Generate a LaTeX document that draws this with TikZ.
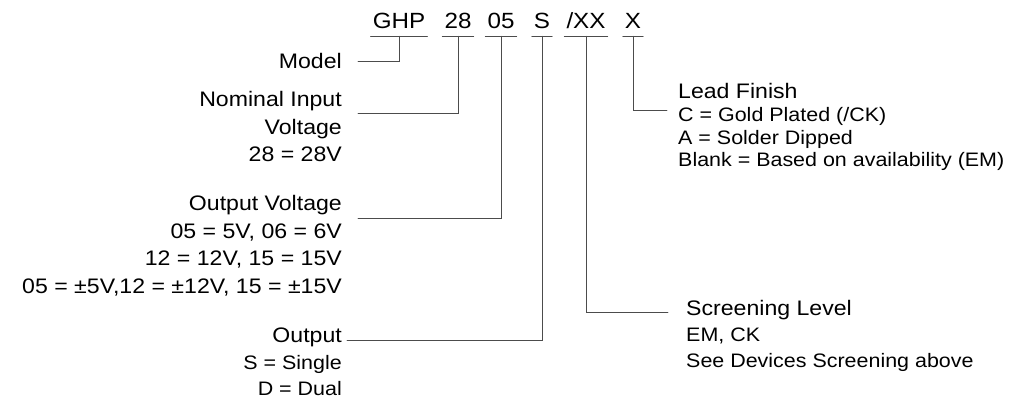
\documentclass[tikz,border=0pt]{standalone}
\usepackage{fontspec}
\setmainfont{Liberation Sans}[FakeStretch=1.1]
\begin{document}
\begin{tikzpicture}[x=1pt,y=-1pt,line cap=round,
    code/.style={font=\fontsize{22}{26}\selectfont, anchor=base, inner xsep=2pt, inner ysep=0pt, text depth=8pt},
    ttl/.style={font=\fontsize{21}{27.4}\selectfont, inner sep=0pt},
    sub/.style={font=\fontsize{19.5}{22.5}\selectfont, inner sep=0pt},
    lead/.style={draw=black!70, line width=0.7pt}]
  \useasboundingbox (0,0) rectangle (1010,400);
  % part number
  \node[code] (ghp) at (399,28) {GHP};
  \node[code] (c28) at (458,28) {28};
  \node[code] (c05) at (501,28) {05};
  \node[code] (cs) at (542,28) {S};
  \node[code] (cxx) at (586,28) {/XX};
  \node[code] (cx) at (633,28) {X};
  \foreach \p in {ghp,c28,c05,cs,cxx,cx}
    \draw[lead] (\p.south west) -- (\p.south east);   % underline
  % left side (base = last line)
  \node[ttl, anchor=base east] (mdl) at (342,68) {Model};
  \node[ttl, anchor=base east, align=right] (nom) at (342,161.5) {Nominal Input\\Voltage\\28 = 28V};
  \node[ttl, anchor=base east, align=right] (ovl) at (342,293) {Output Voltage\\05 = 5V, 06 = 6V\\12 = 12V, 15 = 15V\\05 = ±5V,12 = ±12V, 15 = ±15V};
  \node[ttl, anchor=base east] (out) at (342,342.3) {Output};
  \node[sub, anchor=base east, align=right, font=\fontsize{19.5}{26}\selectfont] (outd) at (342,395) {S = Single\\D = Dual};
  % right side
  \node[ttl, anchor=base west] (fin) at (678,98.3) {Lead Finish};
  \node[sub, anchor=base west, align=left] (find) at (678,166.7) {C = Gold Plated (/CK)\\A = Solder Dipped\\Blank = Based on availability (EM)};
  \node[ttl, anchor=base west] (scr) at (686,315) {Screening Level};
  \node[sub, anchor=base west, align=left, font=\fontsize{19.5}{26}\selectfont] (scrd) at (686,367.7) {EM, CK\\See Devices Screening above};
  % line ends
  \coordinate (mdlend) at (358,61);
  \coordinate (nomend) at (358,113);
  \coordinate (ovlend) at (358,218);
  \coordinate (outend) at (347,340);
  \coordinate (scrend) at (668,312);
  \coordinate (finend) at (667,110);
  \draw[lead] (ghp.south) |- (mdlend);   % model
  \draw[lead] (c28.south) |- (nomend);   % input
  \draw[lead] (c05.south) |- (ovlend);   % output voltage
  \draw[lead] (cs.south) |- (outend);    % output
  \draw[lead] (cxx.south) |- (scrend);   % screening
  \draw[lead] (cx.south) |- (finend);    % finish
\end{tikzpicture}
\end{document}
